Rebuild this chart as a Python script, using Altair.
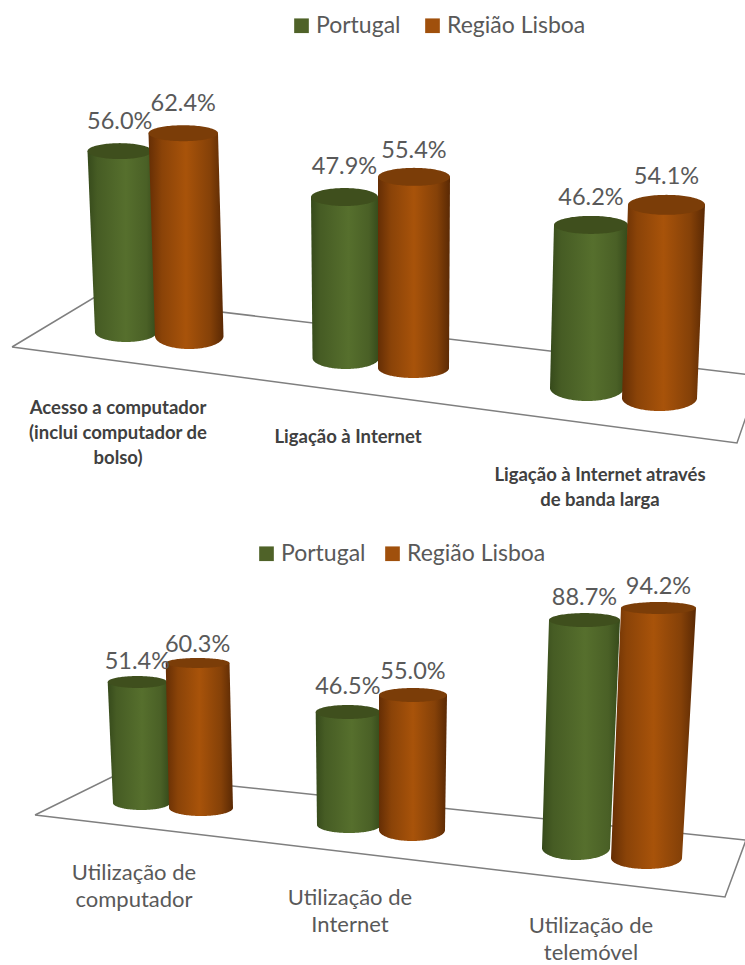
import altair as alt
import numpy as np
import pandas as pd

SERIES = ["Portugal", "Região Lisboa"]

# Upper panel: household access
CATEGORIES_TOP = ["Acesso a computador\n(inclui computador de\nbolso)", "Ligação à Internet",
                  "Ligação à Internet através\nde banda larga"]
PORTUGAL_TOP = [56.0, 47.9, 46.2]
LISBOA_TOP = [62.4, 55.4, 54.1]

# Lower panel: individual use
CATEGORIES_BOTTOM = ["Utilização de\ncomputador", "Utilização de\nInternet", "Utilização de\ntelemóvel"]
PORTUGAL_BOTTOM = [51.4, 46.5, 88.7]
LISBOA_BOTTOM = [60.3, 55.0, 94.2]

GREEN_STOPS = [(0, "#364a1b"), (0.14, "#465c24"), (0.55, "#566f2d"), (0.85, "#4a6026"), (1, "#364a1a")]
ORANGE_STOPS = [(0, "#652e05"), (0.18, "#8a4308"), (0.5, "#a8530a"), (0.82, "#854108"), (1, "#5a2904")]
CAP_COLORS = {"Portugal": "#3f4f1d", "Região Lisboa": "#7b3d08"}
LEGEND_COLORS = ["#4f6228", "#a0500c"]
TEXT_GREY = "#595959"
FONT = "Lato"

# Perspective placement of each cylinder on its floor, per category and series:
# base left, base right, base y, base radius, top left, top right, cap radius, px per point, label lift
PLACEMENT_TOP = [
    [(95, 157, 332, 10, 87.5, 152, 8, 3.23, 29), (155, 223.5, 336, 13, 148.5, 218, 8, 3.25, 29)],
    [(312.5, 379, 358, 11, 311, 378, 9, 3.36, 30), (378, 449, 368, 10, 378, 450, 9, 3.45, 26)],
    [(550, 624, 388, 13, 554, 628, 9, 3.53, 27), (622, 697, 398, 13, 628, 705, 10, 3.57, 28)],
]
PLACEMENT_BOTTOM = [
    [(113, 170, 803, 7, 107.7, 167, 6, 2.354, 20), (169, 233, 808, 8, 165.7, 229.5, 5, 2.405, 18)],
    [(317, 381, 825, 8, 315.7, 380, 7, 2.43, 25), (379, 445, 830, 11, 379, 447, 7, 2.455, 23)],
    [(542, 610, 848, 12, 549, 620, 7, 2.57, 22), (611, 682, 858, 11, 621, 696, 6, 2.654, 21)],
]

# Floor outlines and the first-line anchors of the category labels
FLOOR_TOP = [(12, 347), (95, 297), (760, 376), (737, 443), (12, 347)]
FLOOR_BOTTOM = [(35, 815), (118, 774), (746, 840), (725, 897), (35, 815)]
ANCHORS_TOP = [(118, 408), (348, 437), (600, 475)]
ANCHORS_BOTTOM = [(134, 873), (350, 898), (591, 926)]


def cylinder_frames(cid, value, spec):
    """Outline of a cylinder body and its cap, with the height taken from the value."""
    bl, br, by, bry, tl, tr, cry, k, lift = spec
    ty = by - value * k
    # Straight sides need two rows; the rounded base gets rows bunched towards its lowest point
    arc = np.sin(np.linspace(0, np.pi / 2, 48))
    ys = np.concatenate([[ty], by + arc * bry])
    t = np.clip((ys - ty) / (by - ty), 0, 1)
    left, right = tl + (bl - tl) * t, tr + (br - tr) * t
    mid = (left + right) / 2
    half = (right - left) / 2
    squeeze = np.sqrt(np.clip(1 - (np.clip(ys - by, 0, None) / bry) ** 2, 0, 1))
    body = pd.DataFrame({"id": cid, "y": ys, "x": mid - half * squeeze, "x2": mid + half * squeeze})
    cs = np.sin(np.linspace(-np.pi / 2, np.pi / 2, 61))
    cap_mid, cap_half = (tl + tr) / 2, (tr - tl) / 2
    rim = np.sqrt(np.clip(1 - cs ** 2, 0, 1))
    cap = pd.DataFrame({"id": cid, "y": ty + cs * cry,
                        "x": cap_mid - cap_half * rim, "x2": cap_mid + cap_half * rim})
    return body, cap, (cap_mid, ty - lift)


def gradient(stops):
    return alt.Gradient(gradient="linear", x1=0, x2=1, y1=0, y2=0,
                        stops=[alt.GradientStop(offset=o, color=c) for o, c in stops])


def panel(categories, portugal, lisboa, placement, floor, anchors, domain, height,
          legend_pos, legend_gap, label_style, value_size, legend_size):
    x_enc = alt.X("x:Q", axis=None, scale=alt.Scale(domain=[0, 745], nice=False, zero=False))
    y_enc = alt.Y("y:Q", axis=None, scale=alt.Scale(domain=domain, nice=False, zero=False))

    floor_df = pd.DataFrame({"x": [p[0] for p in floor], "y": [p[1] for p in floor],
                             "ord": range(len(floor))})
    layers = [alt.Chart(floor_df).mark_line(color="#7f7f7f", strokeWidth=1.5, clip=True)
              .encode(x=x_enc, y=y_enc, order="ord:Q")]

    labels = []
    for s, (name, values, stops) in enumerate([(SERIES[0], portugal, GREEN_STOPS),
                                               (SERIES[1], lisboa, ORANGE_STOPS)]):
        parts = [cylinder_frames(f"{name}{i}", v, placement[i][s]) for i, v in enumerate(values)]
        bodies = pd.concat([p[0] for p in parts])
        caps = pd.concat([p[1] for p in parts])
        layers.append(alt.Chart(bodies).mark_area(orient="horizontal", fill=gradient(stops))
                      .encode(x=x_enc, x2="x2:Q", y=y_enc, detail="id:N"))
        layers.append(alt.Chart(caps).mark_area(orient="horizontal", fill=CAP_COLORS[name])
                      .encode(x=x_enc, x2="x2:Q", y=y_enc, detail="id:N"))
        labels += [{"x": p[2][0], "y": p[2][1], "text": f"{v:.1f}%"} for p, v in zip(parts, values)]

    layers.append(alt.Chart(pd.DataFrame(labels))
                  .mark_text(font=FONT, fontSize=value_size, color=TEXT_GREY, baseline="middle")
                  .encode(x=x_enc, y=y_enc, text="text:N"))

    cat_df = pd.DataFrame({"x": [a[0] for a in anchors], "y": [a[1] for a in anchors],
                           "text": categories})
    layers.append(alt.Chart(cat_df).mark_text(lineBreak="\n", baseline="middle", font=FONT, **label_style)
                  .encode(x=x_enc, y=y_enc, text="text:N"))

    legend_df = pd.DataFrame({"series": SERIES})
    layers.append(alt.Chart(legend_df).mark_square(size=0, opacity=0).encode(
        color=alt.Color("series:N", scale=alt.Scale(domain=SERIES, range=LEGEND_COLORS),
                        legend=alt.Legend(title=None, orient="none", direction="horizontal",
                                          legendX=legend_pos[0], legendY=legend_pos[1],
                                          symbolType="square", symbolSize=215, symbolOpacity=1,
                                          symbolStrokeWidth=0, labelFont=FONT,
                                          labelFontSize=legend_size, labelColor=TEXT_GREY,
                                          labelOffset=3, columnPadding=legend_gap, padding=0))))
    return alt.layer(*layers).properties(width=745, height=height)


top = panel(CATEGORIES_TOP, PORTUGAL_TOP, LISBOA_TOP, PLACEMENT_TOP, FLOOR_TOP, ANCHORS_TOP,
            [525, 0], 525, (290, 14), 20,
            dict(fontSize=18.5, fontWeight="bold", color="#404040", lineHeight=25), 23.5, 23)
bottom = panel(CATEGORIES_BOTTOM, PORTUGAL_BOTTOM, LISBOA_BOTTOM, PLACEMENT_BOTTOM, FLOOR_BOTTOM,
               ANCHORS_BOTTOM, [965, 525], 440, (255, 17), 15,
               dict(fontSize=22, color=TEXT_GREY, lineHeight=27), 23.5, 23)

chart = (alt.vconcat(top, bottom, spacing=0)
         .resolve_scale(color="independent", x="independent", y="independent")
         .properties(padding=0, background="white")
         .configure_view(stroke=None))

chart.save("out.html", embed_options={"renderer": "svg", "actions": False})
